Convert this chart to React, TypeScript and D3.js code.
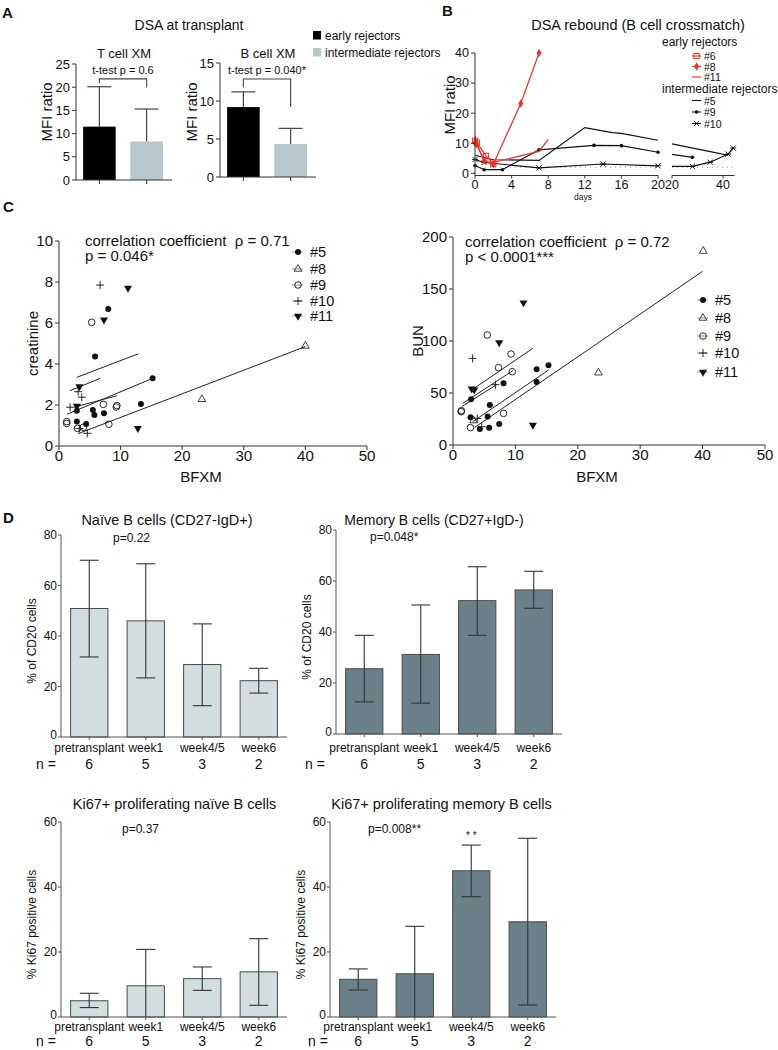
import React from "react";
import * as d3 from "d3";

const FONT = "'Liberation Sans', Arial, Helvetica, sans-serif";

// ---------------- Panel A ----------------
const groupsA = ["early rejectors", "intermediate rejectors"];
const tCellMean = [11.5, 8.3];
const tCellUpper = [20.1, 15.3];
const bCellMean = [9.2, 4.35];
const bCellUpper = [11.2, 6.4];
const tCellTicks = [0, 5, 10, 15, 20, 25];
const bCellTicks = [0, 5, 10, 15];
const tCellBracket = [21.8, 20.9, 20.0]; // top, left end, right end
const bCellBracket = [12.9, 11.8, 9.2];
const colorsA = ["#000000", "#b8c7cb"];

// ---------------- Panel B ----------------
const days1Ticks = [0, 4, 8, 12, 16, 20];
const days2Ticks = [20, 40];
const mfiTicks = [0, 10, 20, 30, 40];
const reb6 = [[0, 10.8], [0.2, 10.2], [1.2, 5.8], [2, 3.2]];
const reb8 = [[0, 10.2], [0.2, 9.6], [1, 4.2], [2, 3.0], [5, 23.2], [7, 40]];
const reb11 = [[0, 12.5], [0.3, 9], [1, 4], [2, 3.6], [7, 7.3], [8, 11.3]];
const reb5a = [[0, 6], [2, 4.5], [7, 4.3], [12, 15.2], [15, 13.5], [16, 13.3], [20, 11]];
const reb5b = [[20, 9.8], [35, 7.2], [42, 6]];
const reb9a = [[0, 2.6], [1, 1.2], [3, 1.2], [7, 7.8], [13, 9.3], [16, 9.2], [20, 7]];
const reb9b = [[20, 6.3], [28, 5.3]];
const reb10a = [[0, 4.6], [1, 3.6], [7, 1.8], [14, 3.1], [20, 2.5]];
const reb10b = [[20, 2.3], [28, 2.3], [35, 3.7], [42, 6.4], [44, 8.4]];
const cutoffMFI = 2;

// ---------------- Panel C ----------------
const bfxmTicks = [0, 10, 20, 30, 40, 50];
const creatTicks = [0, 2, 4, 6, 8, 10];
const bunTicks = [0, 50, 100, 150, 200];
const creat5 = [[8.0, 6.68], [5.85, 4.36], [15.2, 3.3], [2.9, 1.72], [5.5, 1.76], [5.75, 1.51], [7.3, 1.6], [13.3, 2.05], [2.9, 1.19], [4.4, 1.07]];
const creat8 = [[23.2, 2.28], [40, 4.88]];
const creat9 = [[5.3, 6.03], [7.2, 2.03], [9.4, 1.97], [9.3, 1.9], [1.25, 1.19], [1.25, 1.1], [3.0, 0.86], [3.95, 0.91], [8.1, 1.06]];
const creat10 = [[6.67, 7.85], [3.1, 2.65], [3.7, 2.38], [1.8, 1.89], [4.6, 0.62], [3.3, 0.85]];
const creat11 = [[11.2, 7.7], [7.3, 6.15], [3.3, 2.9], [2.9, 1.95], [12.8, 0.86]];
const creatFits = [[2.9, 3.35, 12.9, 4.5], [1.8, 2.7, 6.7, 3.3], [1.3, 1.55, 15.2, 3.3], [2.5, 1.9, 9.4, 2.45], [3.1, 0.6, 40, 4.85]];
const bun5 = [[13.4, 72.8], [15.3, 76.6], [13.4, 60.6], [8.1, 59.3], [2.9, 43.9], [5.9, 38.5], [2.8, 26.6], [5.55, 27.3], [4.3, 15.4], [5.8, 16.7], [7.4, 20.2]];
const bun8 = [[23.3, 69.5], [40.1, 186.5], [3.3, 23.5]];
const bun9 = [[5.5, 105.8], [9.3, 87.5], [7.3, 74.4], [9.5, 70.5], [1.35, 33], [1.3, 32], [8.1, 30.4], [2.8, 16.7]];
const bun10 = [[3.15, 83.3], [4.6, 17.6], [3.9, 25.6], [6.8, 58]];
const bun11 = [[11.3, 136.8], [7.4, 98.4], [3.0, 54], [3.4, 53], [12.8, 19.2]];
const bunFits = [[3.0, 52.9, 12.8, 93], [1.55, 40, 9.6, 71.5], [1.4, 37, 7.0, 58], [3.15, 22.4, 15.3, 72], [3.5, 17, 40, 167]];
const patientNames = ["#5", "#8", "#9", "#10", "#11"];
const patientMarkers = ["dot", "tri", "ring", "plus", "triDown"];

// ---------------- Panel D ----------------
const timepoints = ["pretransplant", "week1", "week4/5", "week6"];
const nCounts = [6, 5, 3, 2];
const pctTicks80 = [0, 20, 40, 60, 80];
const pctTicks60 = [0, 20, 40, 60];
const naiveMean = [50.9, 46, 28.7, 22.3];
const naiveUp = [70, 68.6, 44.8, 27.2];
const naiveLow = [31.7, 23.4, 12.4, 17.4];
const memMean = [25.6, 31.2, 52.3, 56.5];
const memUp = [38.7, 50.6, 65.6, 63.8];
const memLow = [12.6, 12.1, 38.7, 49.3];
const kiNaiveMean = [5.0, 9.6, 11.8, 13.9];
const kiNaiveUp = [7.3, 20.8, 15.4, 24.1];
const kiNaiveLow = [2.9, 0, 8.2, 3.6];
const kiMemMean = [11.6, 13.3, 45, 29.3];
const kiMemUp = [14.8, 27.9, 52.9, 55];
const kiMemLow = [8.3, 0, 37, 3.7];

const AX = "#333";

function Marker({ type, x, y, color = "#111" }: any) {
  switch (type) {
    case "dot":
      return <circle cx={x} cy={y} r={3} fill={color} />;
    case "ring":
      return <circle cx={x} cy={y} r={3.3} fill="#fff" fillOpacity={0} stroke={color} strokeWidth={0.9} />;
    case "tri":
      return <path d={d3.symbol(d3.symbolTriangle, 26)() as string} transform={`translate(${x},${y})`} fill="none" stroke={color} strokeWidth={0.8} />;
    case "triDown":
      return <path d={d3.symbol(d3.symbolTriangle, 28)() as string} transform={`translate(${x},${y}) rotate(180)`} fill={color} />;
    case "plus":
      return <path d={`M${x - 4},${y}h8M${x},${y - 4}v8`} stroke={color} strokeWidth={0.9} fill="none" />;
    case "square":
      return <rect x={x - 2.6} y={y - 2.6} width={5.2} height={5.2} fill="none" stroke={color} strokeWidth={1} />;
    case "diamond":
      return <path d={d3.symbol(d3.symbolDiamond, 20)() as string} transform={`translate(${x},${y})`} fill={color} />;
    case "small":
      return <circle cx={x} cy={y} r={1.8} fill={color} />;
    case "x":
      return <path d={`M${x - 2.6},${y - 2.6}l5.2,5.2M${x - 2.6},${y + 2.6}l5.2,-5.2M${x - 3},${y}h6`} stroke={color} strokeWidth={0.9} fill="none" />;
    default:
      return null;
  }
}

function PanelA({ x0, yBottom, yTop, max, ticks, means, uppers, bracket, title, ptext, labelX }: any) {
  const x = d3.scaleBand().domain(groupsA).range([x0, x0 + 94]).paddingInner(0.31).paddingOuter(0.15);
  const y = d3.scaleLinear().domain([0, max]).range([yBottom, yTop]);
  const bw = x.bandwidth();
  const c0 = (x(groupsA[0]) as number) + bw / 2;
  const c1 = (x(groupsA[1]) as number) + bw / 2;
  return (
    <g>
      <text x={x0 + 48} y={58} fontSize={13} textAnchor="middle">{title}</text>
      {groupsA.map((g, i) => {
        const bx = x(g) as number;
        const cx = bx + bw / 2;
        return (
          <g key={g}>
            <line x1={cx} x2={cx} y1={y(means[i])} y2={y(uppers[i])} stroke="#444" strokeWidth={1.2} />
            <line x1={cx - 12} x2={cx + 12} y1={y(uppers[i])} y2={y(uppers[i])} stroke="#444" strokeWidth={1.2} />
            <rect x={bx} y={y(means[i])} width={bw} height={yBottom - y(means[i])} fill={colorsA[i]} />
          </g>
        );
      })}
      <path d={`M${c0},${y(bracket[1])}V${y(bracket[0])}H${c1}V${y(bracket[2])}`} fill="none" stroke="#444" strokeWidth={1.1} />
      <text x={(c0 + c1) / 2} y={y(bracket[0]) - 5} fontSize={11} textAnchor="middle">{ptext}</text>
      <line x1={x0} x2={x0} y1={yBottom} y2={yTop} stroke={AX} />
      <line x1={x0} x2={x0 + 96} y1={yBottom} y2={yBottom} stroke={AX} />
      {[c0, c1].map((c, i) => <line key={i} x1={c} x2={c} y1={yBottom} y2={yBottom + 4} stroke={AX} />)}
      {ticks.map((t: number) => (
        <g key={t}>
          <line x1={x0 - 4} x2={x0} y1={y(t)} y2={y(t)} stroke={AX} />
          <text x={x0 - 6} y={y(t)} dy="0.35em" fontSize={13} textAnchor="end">{t}</text>
        </g>
      ))}
      <text transform={`translate(${labelX},112) rotate(-90)`} dy="0.35em" fontSize={15} textAnchor="middle">MFI ratio</text>
    </g>
  );
}

function PanelB() {
  const y = d3.scaleLinear().domain([0, 40]).range([173.3, 53]);
  const x1 = d3.scaleLinear().domain([0, 20]).range([475, 658]);
  const x2 = d3.scaleLinear().domain([20, 40]).range([672, 723]);
  const l1 = d3.line<number[]>().x((d) => x1(d[0])).y((d) => y(d[1]));
  const l2 = d3.line<number[]>().x((d) => x2(d[0])).y((d) => y(d[1]));
  const red = "#ff2a1f";
  const seg1 = [
    { d: reb5a, c: "#111", m: null },
    { d: reb9a, c: "#111", m: "small" },
    { d: reb10a, c: "#111", m: "x" },
    { d: reb11, c: red, m: null },
    { d: reb6, c: red, m: "square" },
    { d: reb8, c: red, m: "diamond" },
  ];
  const seg2 = [
    { d: reb5b, c: "#111", m: null },
    { d: reb9b, c: "#111", m: "small" },
    { d: reb10b, c: "#111", m: "x" },
  ];
  const axY = 175.5;
  const legend = [
    { t: "early rejectors", header: true, y: 46 },
    { t: "#6", c: red, m: "square", y: 60 },
    { t: "#8", c: red, m: "diamond", y: 70.5 },
    { t: "#11", c: red, m: null, y: 81 },
    { t: "intermediate rejectors", header: true, y: 93 },
    { t: "#5", c: "#111", m: null, y: 104.5 },
    { t: "#9", c: "#111", m: "small", y: 116 },
    { t: "#10", c: "#111", m: "x", y: 127.5 },
  ];
  return (
    <g>
      <text x={638} y={30} fontSize={14.5} textAnchor="middle">DSA rebound (B cell crossmatch)</text>
      <line x1={x1(0)} x2={x1(20)} y1={y(cutoffMFI)} y2={y(cutoffMFI)} stroke="#999" strokeDasharray="1,4" />
      <line x1={x2(20)} x2={x2(44.5)} y1={y(cutoffMFI)} y2={y(cutoffMFI)} stroke="#999" strokeDasharray="1,4" />
      {seg1.map((s, i) => (
        <g key={i}>
          <path d={l1(s.d as any) as string} fill="none" stroke={s.c} strokeWidth={1.2} />
          {s.m && s.d.map((p, j) => <Marker key={j} type={s.m} x={x1(p[0])} y={y(p[1])} color={s.c} />)}
        </g>
      ))}
      {seg2.map((s, i) => (
        <g key={i}>
          <path d={l2(s.d as any) as string} fill="none" stroke={s.c} strokeWidth={1.2} />
          {s.m && s.d.slice(1).map((p, j) => <Marker key={j} type={s.m} x={x2(p[0])} y={y(p[1])} color={s.c} />)}
        </g>
      ))}
      <line x1={475} x2={475} y1={axY} y2={y(40)} stroke={AX} />
      {mfiTicks.map((t) => (
        <g key={t}>
          <line x1={471} x2={475} y1={y(t)} y2={y(t)} stroke={AX} />
          <text x={469} y={y(t)} dy="0.35em" fontSize={12.5} textAnchor="end">{t}</text>
        </g>
      ))}
      <line x1={x1(0)} x2={x1(20)} y1={axY} y2={axY} stroke={AX} />
      {days1Ticks.map((t) => (
        <g key={t}>
          <line x1={x1(t)} x2={x1(t)} y1={axY} y2={axY + 3} stroke={AX} />
          <text x={x1(t)} y={189} fontSize={12.5} textAnchor="middle">{t}</text>
        </g>
      ))}
      <line x1={x2(20)} x2={x2(44.5)} y1={axY} y2={axY} stroke={AX} />
      {days2Ticks.map((t) => (
        <g key={t}>
          <line x1={x2(t)} x2={x2(t)} y1={axY} y2={axY + 3} stroke={AX} />
          <text x={x2(t)} y={189} fontSize={12.5} textAnchor="middle">{t}</text>
        </g>
      ))}
      <text x={583} y={200} fontSize={8.5} textAnchor="middle">days</text>
      <text transform="translate(450,105) rotate(-90)" dy="0.35em" fontSize={15} textAnchor="middle">MFI ratio</text>
      {legend.map((e, i) =>
        e.header ? (
          <text key={i} x={662} y={e.y} fontSize={12}>{e.t}</text>
        ) : (
          <g key={i}>
            <line x1={692} x2={701} y1={e.y - 4} y2={e.y - 4} stroke={e.c} strokeWidth={1.1} />
            {e.m && <Marker type={e.m} x={696.5} y={e.y - 4} color={e.c} />}
            <text x={704} y={e.y} fontSize={10.5}>{e.t}</text>
          </g>
        )
      )}
    </g>
  );
}

function PanelC({ x0, x1v, yB, yT, ymax, yTicks, series, fits, ann1, ann2, annX, annY, legX, legYs, ylabel, ylabelX }: any) {
  const x = d3.scaleLinear().domain([0, 50]).range([x0, x1v]);
  const y = d3.scaleLinear().domain([0, ymax]).range([yB, yT]);
  return (
    <g>
      {fits.map((f: number[], i: number) => (
        <line key={i} x1={x(f[0])} y1={y(f[1])} x2={x(f[2])} y2={y(f[3])} stroke="#222" strokeWidth={1} />
      ))}
      {series.map((s: any[], i: number) =>
        s.map((p: number[], j: number) => <Marker key={`${i}-${j}`} type={patientMarkers[i]} x={x(p[0])} y={y(p[1])} />)
      )}
      <line x1={x0} x2={x0} y1={yB} y2={yT} stroke={AX} />
      <line x1={x0} x2={x1v} y1={yB} y2={yB} stroke={AX} />
      {yTicks.map((t: number) => (
        <g key={t}>
          <line x1={x0 - 4} x2={x0} y1={y(t)} y2={y(t)} stroke={AX} />
          <text x={x0 - 6} y={y(t)} dy="0.35em" fontSize={15} textAnchor="end">{t}</text>
        </g>
      ))}
      {bfxmTicks.map((t) => (
        <g key={t}>
          <line x1={x(t)} x2={x(t)} y1={yB} y2={yB + 4} stroke={AX} />
          <text x={x(t)} y={yB + 15} fontSize={15} textAnchor="middle">{t}</text>
        </g>
      ))}
      <text x={(x0 + x1v) / 2 - 12} y={482} fontSize={15} textAnchor="middle">BFXM</text>
      <text transform={`translate(${ylabelX},${(yB + yT) / 2}) rotate(-90)`} dy="0.35em" fontSize={15} textAnchor="middle">{ylabel}</text>
      <text x={annX} y={annY} fontSize={15} style={{ whiteSpace: "pre" }}>{ann1}</text>
      <text x={annX} y={annY + 15} fontSize={15}>{ann2}</text>
      {patientNames.map((n, i) => (
        <g key={n}>
          <line x1={legX - 6} x2={legX + 5} y1={legYs[i] - 5} y2={legYs[i] - 5} stroke="#777" strokeWidth={0.8} />
          <Marker type={patientMarkers[i]} x={legX} y={legYs[i] - 5} />
          <text x={legX + 12} y={legYs[i]} fontSize={14.5}>{n}</text>
        </g>
      ))}
    </g>
  );
}

function PanelD({ axisX, yB, yT, max, ticks, means, ups, lows, fill, title, titleX, titleY, titleSize, ptext, pX, pY, ylabel, catY, nY, nX, star }: any) {
  const x = d3.scaleBand().domain(timepoints).range([axisX, axisX + 226]).paddingInner(0.34).paddingOuter(0.17);
  const y = d3.scaleLinear().domain([0, max]).range([yB, yT]);
  const bw = x.bandwidth();
  return (
    <g>
      <text x={titleX} y={titleY} fontSize={titleSize || 14.5} textAnchor="middle">{title}</text>
      <text x={pX} y={pY} fontSize={12}>{ptext}</text>
      {timepoints.map((t, i) => {
        const bx = x(t) as number;
        const cx = bx + bw / 2;
        return (
          <g key={t}>
            <rect x={bx} y={y(means[i])} width={bw} height={yB - y(means[i])} fill={fill} stroke="#4a4a4a" strokeWidth={1} />
            <line x1={cx} x2={cx} y1={y(ups[i])} y2={y(lows[i])} stroke="#333" strokeWidth={1.1} />
            <line x1={cx - 9.5} x2={cx + 9.5} y1={y(ups[i])} y2={y(ups[i])} stroke="#333" strokeWidth={1.1} />
            {lows[i] > 0 && <line x1={cx - 9.5} x2={cx + 9.5} y1={y(lows[i])} y2={y(lows[i])} stroke="#333" strokeWidth={1.1} />}
            <line x1={cx} x2={cx} y1={yB} y2={yB + 3} stroke="#555" />
            <text x={cx} y={catY} fontSize={12} textAnchor="middle">{t}</text>
            <text x={cx} y={nY} fontSize={14} textAnchor="middle">{nCounts[i]}</text>
            {star && star[i] && <text x={cx} y={y(ups[i]) - 6} fontSize={10} textAnchor="middle">{star[i]}</text>}
          </g>
        );
      })}
      <text x={nX} y={nY} fontSize={14}>n =</text>
      <line x1={axisX} x2={axisX} y1={yB} y2={yT} stroke="#555" />
      <line x1={axisX} x2={axisX + 226} y1={yB} y2={yB} stroke="#555" />
      {ticks.map((t: number) => (
        <g key={t}>
          <line x1={axisX - 3} x2={axisX} y1={y(t)} y2={y(t)} stroke="#555" />
          <text x={axisX - 4} y={y(t)} dy={t === 0 ? "0.15em" : "0.35em"} fontSize={12} textAnchor="end">{t}</text>
        </g>
      ))}
      <text transform={`translate(${axisX - 29},${(yB + yT) / 2 + 5}) rotate(-90)`} dy="0.35em" fontSize={12} textAnchor="middle">{ylabel}</text>
    </g>
  );
}

export default function App() {
  return (
    <svg width={778} height={1050} style={{ position: "absolute", left: 0, top: 0, background: "#fff" }} fontFamily={FONT} fill="#111">
      <rect x={0} y={0} width={778} height={1050} fill="#fff" />
      {/* Panel letters */}
      <text x={2} y={18} fontSize={15} fontWeight="bold">A</text>
      <text x={442} y={16} fontSize={15} fontWeight="bold">B</text>
      <text x={3} y={212} fontSize={15} fontWeight="bold">C</text>
      <text x={3} y={523} fontSize={15} fontWeight="bold">D</text>

      {/* Panel A */}
      <text x={189} y={30} fontSize={14} textAnchor="middle">DSA at transplant</text>
      <PanelA x0={76} yBottom={180} yTop={64} max={25} ticks={tCellTicks} means={tCellMean} uppers={tCellUpper}
        bracket={tCellBracket} title="T cell XM" ptext="t-test p = 0.6" labelX={47} />
      <PanelA x0={220} yBottom={177} yTop={63} max={15} ticks={bCellTicks} means={bCellMean} uppers={bCellUpper}
        bracket={bCellBracket} title="B cell XM" ptext="t-test p = 0.040*" labelX={192} />
      {groupsA.map((g, i) => (
        <g key={g}>
          <rect x={313} y={31 + i * 17} width={8} height={8.5} fill={colorsA[i]} />
          <text x={325} y={39.5 + i * 17} fontSize={12}>{g}</text>
        </g>
      ))}

      <PanelB />

      {/* Panel C */}
      <PanelC x0={59} x1v={367} yB={446} yT={241} ymax={10} yTicks={creatTicks}
        series={[creat5, creat8, creat9, creat10, creat11]} fits={creatFits}
        ann1={"correlation coefficient  \u03c1 = 0.71"} ann2="p = 0.046*" annX={85} annY={246}
        legX={298} legYs={[257, 274, 290, 306, 321]} ylabel="creatinine" ylabelX={33} />
      <PanelC x0={453} x1v={765} yB={445} yT={237} ymax={200} yTicks={bunTicks}
        series={[bun5, bun8, bun9, bun10, bun11]} fits={bunFits}
        ann1={"correlation coefficient  \u03c1 = 0.72"} ann2="p < 0.0001***" annX={465} annY={247}
        legX={703} legYs={[305, 323, 341, 358, 377]} ylabel="BUN" ylabelX={418} />

      {/* Panel D */}
      <PanelD axisX={61} yB={737} yT={535} max={80} ticks={pctTicks80} means={naiveMean} ups={naiveUp} lows={naiveLow}
        fill="#d2dddf" title="Naïve B cells (CD27-IgD+)" titleX={167} titleY={525} ptext="p=0.22" pX={113} pY={542}
        ylabel="% of CD20 cells" catY={752} nY={769} nX={36} />
      <PanelD axisX={336} yB={734} yT={530} max={80} ticks={pctTicks80} means={memMean} ups={memUp} lows={memLow}
        fill="#6b8088" title="Memory B cells (CD27+IgD-)" titleX={434} titleY={525} titleSize={14} ptext="p=0.048*" pX={370} pY={541}
        ylabel="% of CD20 cells" catY={752} nY={769} nX={305} />
      <PanelD axisX={61} yB={1017} yT={822} max={60} ticks={pctTicks60} means={kiNaiveMean} ups={kiNaiveUp} lows={kiNaiveLow}
        fill="#d2dddf" title="Ki67+ proliferating naïve B cells" titleX={174.5} titleY={809} ptext="p=0.37" pX={122} pY={833}
        ylabel="% Ki67 positive cells" catY={1031} nY={1046} nX={36} />
      <PanelD axisX={330} yB={1017} yT={822} max={60} ticks={pctTicks60} means={kiMemMean} ups={kiMemUp} lows={kiMemLow}
        fill="#6b8088" title="Ki67+ proliferating memory B cells" titleX={441.5} titleY={809} ptext="p=0.008**" pX={368} pY={833}
        ylabel="% Ki67 positive cells" catY={1031} nY={1046} nX={308} star={[null, null, "* *", null]} />
    </svg>
  );
}
